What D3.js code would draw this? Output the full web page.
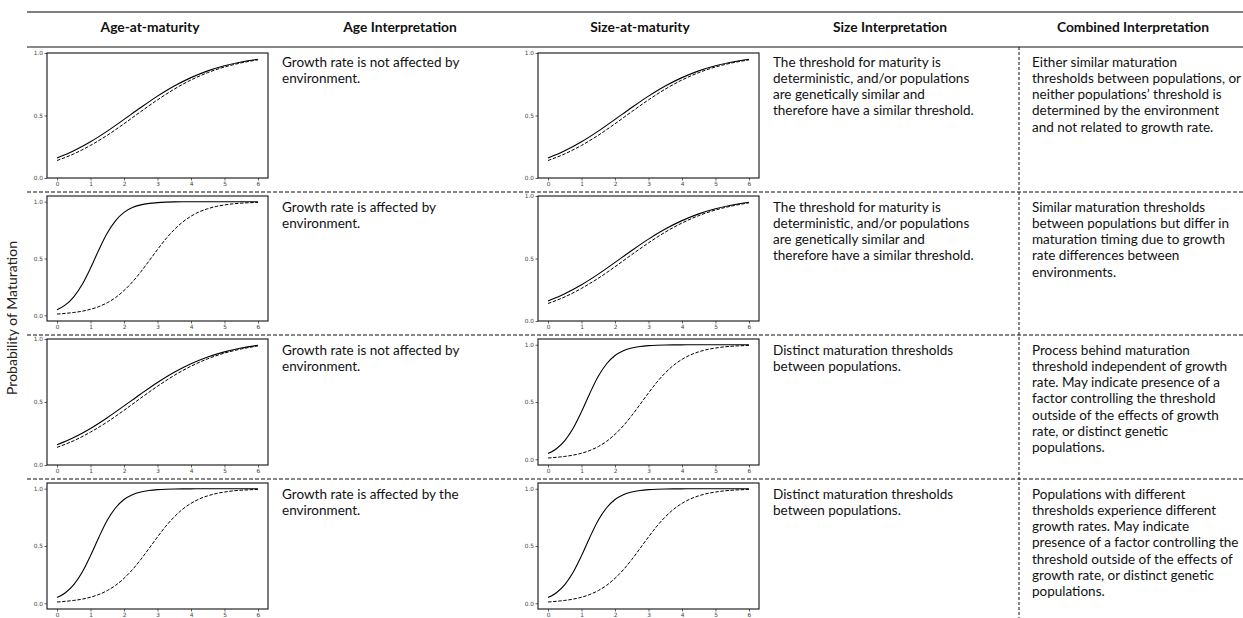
<!DOCTYPE html>
<html>
<head>
<meta charset="utf-8">
<script src="https://cdn.jsdelivr.net/npm/d3@7"></script>
<style>
  body { margin: 0; background: #fff; }
  svg { display: block; font-family: Lato, "Open Sans", sans-serif; }
  .tick text { font-family: "DejaVu Sans", sans-serif; opacity: 0.99; }
</style>
</head>
<body>
<div id="chart"></div>
<script>
// x positions the curves were read at
const xsCoarse = [0, 0.5, 1, 1.5, 2, 2.5, 3, 3.5, 4, 4.5, 5, 5.5, 6];
const xsFine = [0, 0.25, 0.5, 0.75, 1, 1.25, 1.5, 1.75, 2, 2.25, 2.5, 2.75, 3,
                3.25, 3.5, 3.75, 4, 4.25, 4.5, 4.75, 5, 5.25, 5.5, 5.75, 6];

// slow (shallow) maturation curves - the two populations nearly overlap
const slowSolid  = [0.16, 0.218, 0.29, 0.375, 0.469, 0.564, 0.655, 0.736, 0.803, 0.857, 0.898, 0.928, 0.95];
const slowDashed = [0.14, 0.193, 0.261, 0.342, 0.434, 0.531, 0.625, 0.711, 0.784, 0.843, 0.888, 0.921, 0.945];

// steep curves - populations clearly separated
const fastSolid  = [0.05, 0.092, 0.163, 0.271, 0.416, 0.577, 0.724, 0.834, 0.906, 0.948, 0.972, 0.985, 0.992,
                    0.996, 0.998, 0.999, 0.999, 1.0, 1.0, 1.0, 1.0, 1.0, 1.0, 1.0, 1.0];
const fastDashed = [0.011, 0.017, 0.025, 0.036, 0.053, 0.077, 0.111, 0.157, 0.218, 0.293, 0.382, 0.48, 0.579,
                    0.673, 0.754, 0.821, 0.872, 0.911, 0.938, 0.958, 0.971, 0.981, 0.987, 0.991, 0.994];

const xTicks = [0, 1, 2, 3, 4, 5, 6];
const yTicks = [0, 0.5, 1];

const headers = ["Age-at-maturity", "Age Interpretation", "Size-at-maturity", "Size Interpretation", "Combined Interpretation"];

// which curve pair goes in each row: age column, size column
const ageKinds  = ["slow", "fast", "slow", "fast"];
const sizeKinds = ["slow", "slow", "fast", "fast"];

const ageText = [
  ["Growth rate is not affected by", "environment."],
  ["Growth rate is affected by", "environment."],
  ["Growth rate is not affected by", "environment."],
  ["Growth rate is affected by the", "environment."]
];
const sizeText = [
  ["The threshold for maturity is", "deterministic, and/or populations", "are genetically similar and", "therefore have a similar threshold."],
  ["The threshold for maturity is", "deterministic, and/or populations", "are genetically similar and", "therefore have a similar threshold."],
  ["Distinct maturation thresholds", "between populations."],
  ["Distinct maturation thresholds", "between populations."]
];
const combinedText = [
  ["Either similar maturation", "thresholds between populations, or", "neither populations\u2019 threshold is", "determined by the environment", "and not related to growth rate."],
  ["Similar maturation thresholds", "between populations but differ in", "maturation timing due to growth", "rate differences between", "environments."],
  ["Process behind maturation", "threshold independent of growth", "rate. May indicate presence of a", "factor controlling the threshold", "outside of the effects of growth", "rate, or distinct genetic", "populations."],
  ["Populations with different", "thresholds experience different", "growth rates. May indicate", "presence of a factor controlling the", "threshold outside of the effects of", "growth rate, or distinct genetic", "populations."]
];

const W = 1243, H = 618;
const svg = d3.select("#chart").append("svg")
  .attr("width", W).attr("height", H);

// layout
const tableLeft = 27;
const topRule = 12, headRule = 47;
const rowSeps = [192, 335, 479];
const rowTops = [headRule, ...rowSeps];
const rowBottoms = [...rowSeps, H];
const headerX = [150, 400, 640, 890, 1133];
const ageBox = { x0: 47, x1: 268 };
const sizeBox = { x0: 538, x1: 759 };
const textX = [282, 773, 1032];
const lineGap = 16.3;
const vLineX = 1019;

// rules
svg.append("line")
  .attr("x1", tableLeft).attr("x2", W).attr("y1", topRule).attr("y2", topRule)
  .attr("stroke", "#555").attr("stroke-width", 1.6);
svg.append("line")
  .attr("x1", tableLeft).attr("x2", W).attr("y1", headRule).attr("y2", headRule)
  .attr("stroke", "#111").attr("stroke-width", 1.1);

rowSeps.forEach(y => {
  svg.append("line")
    .attr("x1", tableLeft).attr("x2", W).attr("y1", y).attr("y2", y)
    .attr("stroke", "#111").attr("stroke-width", 1.1)
    .attr("stroke-dasharray", "4,2");
});

svg.append("line")
  .attr("x1", vLineX).attr("x2", vLineX).attr("y1", headRule).attr("y2", H)
  .attr("stroke", "#111").attr("stroke-width", 1)
  .attr("stroke-dasharray", "3,2");

// headers
svg.selectAll(".header")
  .data(headers)
  .enter()
  .append("text")
  .attr("class", "header")
  .attr("x", (d, i) => headerX[i])
  .attr("y", 32)
  .attr("text-anchor", "middle")
  .attr("font-weight", "bold")
  .attr("font-size", 13.8)
  .attr("fill", "#111")
  .text(d => d);

// y label
svg.append("text")
  .attr("transform", "translate(17,318) rotate(-90)")
  .attr("text-anchor", "middle")
  .attr("font-size", 14)
  .attr("fill", "#222")
  .text("Probability of Maturation");

const curves = {
  slow: { xs: xsCoarse, solid: slowSolid, dashed: slowDashed, yDomain: [0, 1] },
  fast: { xs: xsFine, solid: fastSolid, dashed: fastDashed, yDomain: [-0.05, 1.05] }
};

function drawPanel(box, top, bottom, kind) {
  const c = curves[kind];
  const x = d3.scaleLinear().domain([-0.3, 6.3]).range([box.x0, box.x1]);
  const y = d3.scaleLinear().domain(c.yDomain).range([bottom, top]);
  const g = svg.append("g");

  const xAxis = g.append("g")
    .attr("transform", "translate(0," + bottom + ")")
    .call(d3.axisBottom(x).tickValues(xTicks).tickFormat(d3.format("d")).tickSize(2.5).tickPadding(1.5));
  const yAxis = g.append("g")
    .attr("transform", "translate(" + box.x0 + ",0)")
    .call(d3.axisLeft(y).tickValues(yTicks).tickFormat(d3.format(".1f")).tickSize(2.5).tickPadding(1.5));
  [xAxis, yAxis].forEach(a => {
    a.select(".domain").remove();
    a.selectAll(".tick line").attr("stroke", "#222").attr("stroke-width", 0.7);
    a.selectAll(".tick text").attr("font-size", 5.8).attr("fill", "#444");
  });

  const line = d3.line()
    .x((d, i) => x(c.xs[i]))
    .y(d => y(d))
    .curve(d3.curveMonotoneX);

  g.append("path")
    .datum(c.solid)
    .attr("d", line)
    .attr("fill", "none")
    .attr("stroke", "#000")
    .attr("stroke-width", 1.1);
  g.append("path")
    .datum(c.dashed)
    .attr("d", line)
    .attr("fill", "none")
    .attr("stroke", "#000")
    .attr("stroke-width", 1)
    .attr("stroke-dasharray", "3.5,1.6");

  // frame
  g.append("rect")
    .attr("x", box.x0).attr("y", top)
    .attr("width", box.x1 - box.x0).attr("height", bottom - top)
    .attr("fill", "none")
    .attr("stroke", "#111")
    .attr("stroke-width", 1.1);
}

function drawLines(lines, x, y0) {
  const t = svg.append("text")
    .attr("font-size", 13.5)
    .attr("fill", "#111");
  t.selectAll("tspan")
    .data(lines)
    .enter()
    .append("tspan")
    .attr("x", x)
    .attr("y", (d, i) => y0 + i * lineGap)
    .text(d => d);
}

for (let r = 0; r < 4; r++) {
  const top = rowTops[r] + (r === 0 ? 6 : 4);
  const bottom = rowBottoms[r] - (r === 3 ? 9 : 14);
  drawPanel(ageBox, top, bottom, ageKinds[r]);
  drawPanel(sizeBox, top, bottom, sizeKinds[r]);

  const baseY = rowTops[r] + 19.5;
  drawLines(ageText[r], textX[0], baseY);
  drawLines(sizeText[r], textX[1], baseY);
  drawLines(combinedText[r], textX[2], baseY);
}
</script>
</body>
</html>
